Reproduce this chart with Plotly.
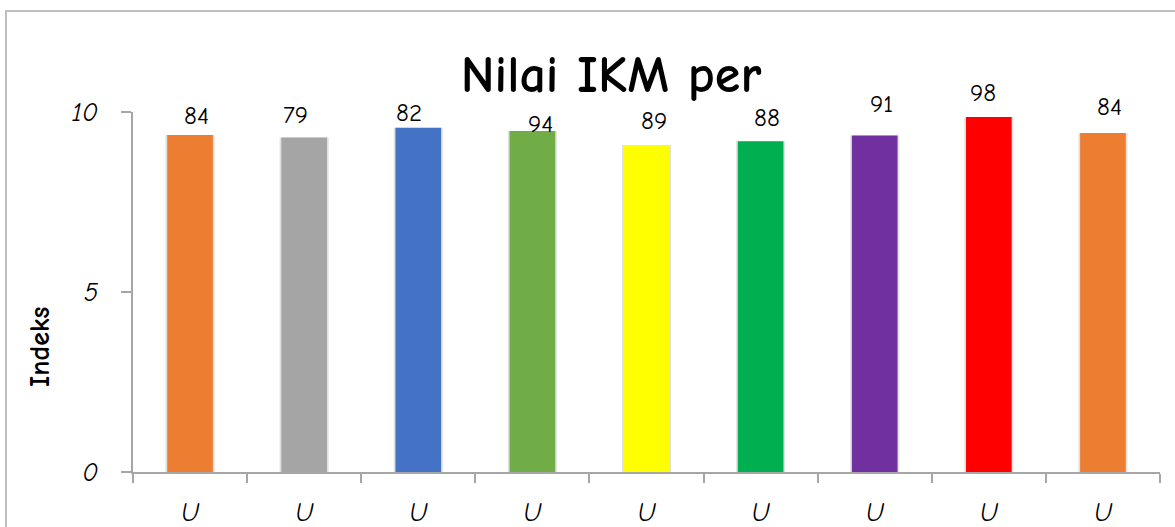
import plotly.graph_objects as go

# ---- data ----
categories = ["U", "U", "U", "U", "U", "U", "U", "U", "U"]
values = [9.36, 9.29, 9.56, 9.47, 9.08, 9.19, 9.35, 9.86, 9.42]
labels = ["84", "79", "82", "94", "89", "88", "91", "98", "84"]
colors = ["#ED7D31", "#A5A5A5", "#4472C4", "#70AD47", "#FFFF00",
          "#00B050", "#7030A0", "#FF0000", "#ED7D31"]
y_ticks = [0, 5, 10]
title_text = "Nilai IKM per"
y_title = "Indeks"

# label placement tweaks (pixels), styling only
label_dy = [20, 23, 15, 8, 25, 24, 32, 25, 26]
label_dx = [6, -9, -9, 8, 7, 6, 7, -6, 7]

FONT = "Comic Sans MS, Comic Neue, Lato, sans-serif"

x = list(range(len(values)))

fig = go.Figure()
# soft shadow imitation
fig.add_trace(go.Bar(
    x=x, y=values, width=0.43,
    marker=dict(color="rgba(0,0,0,0.12)", line=dict(width=0)),
    hoverinfo="skip", showlegend=False,
))
fig.add_trace(go.Bar(
    x=x, y=values, width=0.40,
    marker=dict(color=colors, line=dict(width=0)),
    showlegend=False,
))

annotations = []
for i, (v, t) in enumerate(zip(values, labels)):
    annotations.append(dict(
        x=x[i], y=v, xref="x", yref="y", text=t, showarrow=False,
        yanchor="middle", xanchor="center",
        yshift=label_dy[i], xshift=label_dx[i],
        font=dict(family=FONT, size=25, color="#000000"),
    ))
annotations.append(dict(
    x=(40 - 133) / 1027, y=0.5, xref="paper", yref="paper",
    text="<b>" + y_title + "</b>", textangle=-90, showarrow=False,
    xanchor="center", yanchor="middle",
    yshift=-(347 - 292),
    font=dict(family=FONT, size=28, color="#000000"),
))

fig.update_layout(
    width=1175, height=527,
    margin=dict(l=133, r=15, t=112, b=55, autoexpand=False),
    paper_bgcolor="white", plot_bgcolor="white",
    barmode="overlay", bargap=0.6,
    title=dict(
        text="<b>" + title_text + "</b>",
        x=611 / 1175, xanchor="center", xref="container",
        y=1 - 74 / 527, yanchor="middle", yref="container",
        font=dict(family=FONT, size=52, color="#000000", weight="bold"),
    ),
    annotations=annotations,
    shapes=[dict(
        type="rect", xref="paper", yref="paper",
        x0=(6 - 133) / 1027, x1=1.1, y0=-0.3, y1=1 + (112 - 11) / 360,
        line=dict(color="#BFBFBF", width=2), fillcolor="rgba(0,0,0,0)",
        layer="below",
    )],
    font=dict(family=FONT, color="#000000"),
)

fig.update_xaxes(
    automargin=False,
    range=[-0.5, len(values) - 0.5],
    tickmode="array", tickvals=x, ticktext=categories,
    ticks="outside", ticklen=0, tickcolor="#A6A6A6",
    minor=dict(tickmode="array", tickvals=[i - 0.5 for i in range(len(values) + 1)],
               ticks="outside", ticklen=9, tickcolor="#A6A6A6", tickwidth=1.5,
               showgrid=False),
    showline=True, linecolor="#A6A6A6", linewidth=1.5,
    showgrid=False, zeroline=False,
    tickfont=dict(family=FONT, size=26, color="#000000", style="italic"),
    ticklabelstandoff=16,
)
fig.update_yaxes(
    automargin=False,
    range=[0, 10], tickmode="array", tickvals=y_ticks,
    ticks="outside", ticklen=10, tickcolor="#A6A6A6", tickwidth=1.5,
    showline=True, linecolor="#A6A6A6", linewidth=1.5,
    showgrid=False, zeroline=False,
    tickfont=dict(family=FONT, size=26, color="#000000", style="italic"),
    ticklabelstandoff=18,
)

fig.write_html("out.html")
